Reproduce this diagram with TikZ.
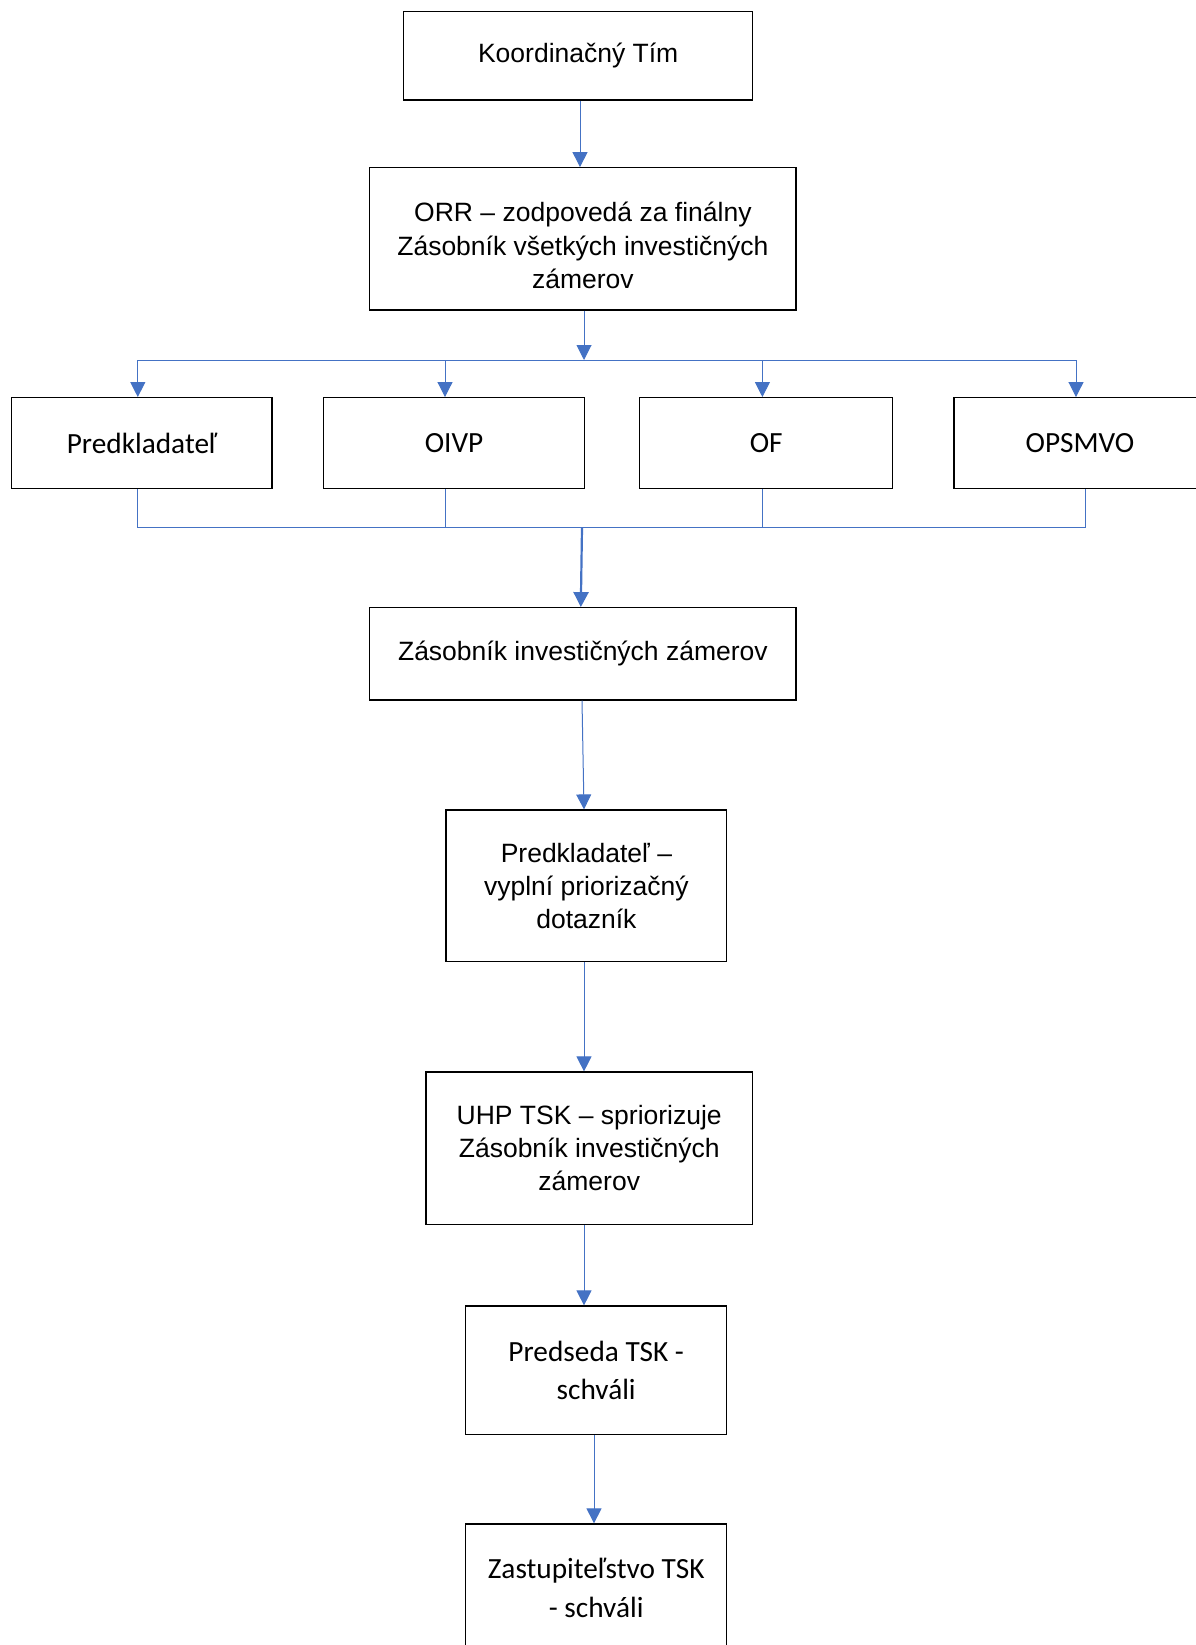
\documentclass[tikz,border=0pt]{standalone}
\usepackage{fontspec}
\setmainfont{Liberation Sans}
\newfontfamily\calibri{Carlito}
\usetikzlibrary{arrows.meta}
\definecolor{linkblue}{HTML}{4472C4}
\tikzset{
  box/.style={draw, line width=1.3pt, inner sep=0pt, align=center, font=\fontsize{26.5}{33.3}\selectfont},
  cbox/.style={box, font=\calibri\fontsize{29.3}{38.3}\selectfont},
  link/.style={draw=linkblue, line width=1pt},
  arr/.style={link, -{Triangle[length=15pt,width=15pt]}}
}

\begin{document}
\begin{tikzpicture}[x=1pt,y=-1pt]
\useasboundingbox (0,0) rectangle (1195,1645);
\node[box, minimum width=349pt, minimum height=88.3pt] (kt) at (578.2,55.8) {Koordinačný Tím};
\node[box, minimum width=426.3pt, minimum height=142.3pt] (orr) at (582.9,238.9) {\rule{0pt}{33pt}ORR – zodpovedá za finálny\\Zásobník všetkých investičných\\zámerov};
\node[cbox, minimum width=260.5pt, minimum height=90.6pt] (pred) at (141.8,443) {Predkladateľ};
\node[cbox, minimum width=260.6pt, minimum height=90.6pt] (oivp) at (454.1,443) {OIVP};
\node[cbox, minimum width=252.8pt, minimum height=90.6pt] (of) at (766.2,443) {OF};
\node[cbox, minimum width=252pt, minimum height=90.6pt] (opsmvo) at (1080,443) {OPSMVO};
\node[box, minimum width=426.3pt, minimum height=92.3pt] (zas) at (582.9,653.9) {Zásobník investičných zámerov};
\node[box, minimum width=280.7pt, minimum height=151.7pt] (dotaz) at (586.4,885.9) {Predkladateľ –\\vyplní priorizačný\\dotazník};
\node[box, minimum width=326.3pt, minimum height=152.3pt] (uhp) at (589.2,1148.2) {UHP TSK – spriorizuje\\Zásobník investičných\\zámerov};
\node[cbox, minimum width=261pt, minimum height=128.3pt] (predseda) at (596.2,1370.2) {Predseda TSK -\\schváli};
\node[cbox, minimum width=261pt, minimum height=128pt] (zast) at (596.2,1588) {Zastupiteľstvo TSK\\- schváli};

\coordinate (topbus) at (584,360);
\coordinate (botbus) at (582,527.7);
\coordinate (d1) at ([xshift=-4pt]pred.north);
\coordinate (d2) at ([xshift=-9.1pt]oivp.north);
\coordinate (d3) at ([xshift=-3.8pt]of.north);
\coordinate (d4) at ([xshift=-4pt]opsmvo.north);
\coordinate (u1) at ([xshift=-4pt]pred.south);
\coordinate (u2) at ([xshift=-9.1pt]oivp.south);
\coordinate (u3) at ([xshift=-3.8pt]of.south);
\coordinate (u4) at ([xshift=5.8pt]opsmvo.south);

\draw[arr] ([xshift=1.8pt]kt.south) -- ([xshift=-2.9pt]orr.north);
\draw[arr] ([xshift=1.1pt]orr.south) -- (topbus);
\draw[link] (topbus -| d1) -- (topbus -| d4);
\draw[arr] (topbus -| d1) -- (d1);
\draw[arr] (topbus -| d2) -- (d2);
\draw[arr] (topbus -| d3) -- (d3);
\draw[arr] (topbus -| d4) -- (d4);
\draw[link] (u1) -- (botbus -| u1) -- (botbus -| u4) -- (u4);
\draw[link] (u2) -- (botbus -| u2);
\draw[link] (u3) -- (botbus -| u3);
\draw[arr, line width=2.2pt] (botbus) -- ([xshift=-2.1pt]zas.north);
\draw[arr] ([xshift=-0.9pt]zas.south) -- ([xshift=-2.4pt]dotaz.north);
\draw[arr] ([xshift=-2.4pt]dotaz.south) -- ([xshift=-5.2pt]uhp.north);
\draw[arr] ([xshift=-5.2pt]uhp.south) -- ([xshift=-12.2pt]predseda.north);
\draw[arr] ([xshift=-2.2pt]predseda.south) -- ([xshift=-2.2pt]zast.north);
\end{tikzpicture}
\end{document}
